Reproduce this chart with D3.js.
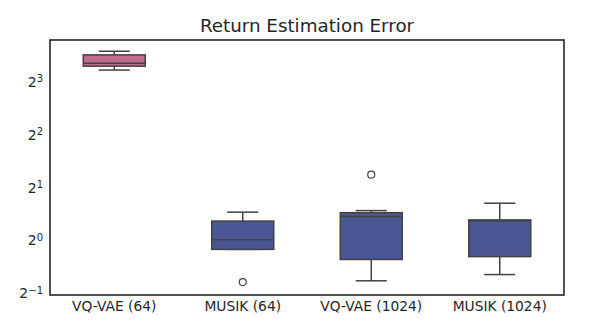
<!DOCTYPE html>
<html>
<head>
<meta charset="utf-8">
<script src="https://cdn.jsdelivr.net/npm/d3@7"></script>
<style>
  body { margin: 0; background: #fff; }
  text { font-family: "DejaVu Sans", sans-serif; fill: #262626; }
</style>
</head>
<body>
<div id="chart"></div>
<script>
var width = 598;
var height = 332;

// box stats (log2 axis)
var categories = ["VQ-VAE (64)", "MUSIK (64)", "VQ-VAE (1024)", "MUSIK (1024)"];
var whiskerLow = [9.33, 0.89, 0.59, 0.64];
var q1Values = [9.82, 0.89, 0.78, 0.81];
var medianValues = [10.2, 1.01, 1.37, 1.29];
var q3Values = [11.38, 1.29, 1.44, 1.31];
var whiskerHigh = [11.94, 1.45, 1.48, 1.63];
var outliers = [[], [0.58], [2.37], []];
var boxColors = ["#bf6c8f", "#4b5795", "#4b5795", "#4b5795"];
var yTicks = [-1, 0, 1, 2, 3];

var margin = {top: 40, right: 34, bottom: 37, left: 50};

var svg = d3.select("#chart")
  .append("svg")
    .attr("width", width)
    .attr("height", height);

var x = d3.scaleBand()
  .domain(categories)
  .range([margin.left, width - margin.right]);

var y = d3.scaleLog()
  .base(2)
  .domain([Math.pow(2, -1.03), Math.pow(2, 3.79)])
  .range([height - margin.bottom, margin.top]);

var data = categories.map(function(c, i){
  return {
    name: c,
    lo: whiskerLow[i],
    q1: q1Values[i],
    med: medianValues[i],
    q3: q3Values[i],
    hi: whiskerHigh[i],
    out: outliers[i],
    color: boxColors[i]};
});

var boxW = 62;
var capW = boxW / 2;
var lineColor = "#424242";

var g = svg.append("g")
  .selectAll("g")
  .data(data)
  .enter()
  .append("g")
    .attr("transform", d => "translate(" + (x(d.name) + x.bandwidth() / 2) + ",0)");

// whiskers
g.append("line")
  .attr("x1", 0).attr("x2", 0)
  .attr("y1", d => y(d.hi)).attr("y2", d => y(d.q3))
  .attr("stroke", lineColor).attr("stroke-width", 1.5);
g.append("line")
  .attr("x1", 0).attr("x2", 0)
  .attr("y1", d => y(d.lo)).attr("y2", d => y(d.q1))
  .attr("stroke", lineColor).attr("stroke-width", 1.5);
g.append("line")
  .attr("x1", -capW / 2).attr("x2", capW / 2)
  .attr("y1", d => y(d.hi)).attr("y2", d => y(d.hi))
  .attr("stroke", lineColor).attr("stroke-width", 1.5);
g.append("line")
  .attr("x1", -capW / 2).attr("x2", capW / 2)
  .attr("y1", d => y(d.lo)).attr("y2", d => y(d.lo))
  .attr("stroke", lineColor).attr("stroke-width", 1.5);

// boxes
g.append("rect")
  .attr("x", -boxW / 2)
  .attr("width", boxW)
  .attr("y", d => y(d.q3))
  .attr("height", d => y(d.q1) - y(d.q3))
  .attr("fill", d => d.color)
  .attr("stroke", lineColor)
  .attr("stroke-width", 1.5);

// medians
g.append("line")
  .attr("x1", -boxW / 2).attr("x2", boxW / 2)
  .attr("y1", d => y(d.med)).attr("y2", d => y(d.med))
  .attr("stroke", lineColor).attr("stroke-width", 1.5);

// fliers
g.selectAll("circle")
  .data(d => d.out)
  .enter()
  .append("circle")
    .attr("cx", 0)
    .attr("cy", v => y(v))
    .attr("r", 3.5)
    .attr("fill", "none")
    .attr("stroke", lineColor)
    .attr("stroke-width", 1.2);

// frame
svg.append("rect")
  .attr("x", margin.left)
  .attr("y", margin.top)
  .attr("width", width - margin.left - margin.right)
  .attr("height", height - margin.top - margin.bottom)
  .attr("fill", "none")
  .attr("stroke", "#262626")
  .attr("stroke-width", 1.6);

// y tick labels
var yl = svg.append("g")
  .selectAll("text")
  .data(yTicks)
  .enter()
  .append("text")
    .attr("x", margin.left - 7)
    .attr("y", t => y(Math.pow(2, t)))
    .attr("dy", "0.35em")
    .attr("text-anchor", "end")
    .style("font-size", "14px");
yl.append("tspan").text("2");
yl.append("tspan")
  .attr("dy", "-0.45em")
  .style("font-size", "10px")
  .text(t => t < 0 ? "\u2212" + Math.abs(t) : t);

// x tick labels
svg.append("g")
  .selectAll("text")
  .data(categories)
  .enter()
  .append("text")
    .attr("x", c => x(c) + x.bandwidth() / 2)
    .attr("y", height - margin.bottom + 16)
    .attr("text-anchor", "middle")
    .style("font-size", "13.8px")
    .text(c => c);

// title
svg.append("text")
  .attr("x", (margin.left + width - margin.right) / 2)
  .attr("y", 32)
  .attr("text-anchor", "middle")
  .style("font-size", "18.3px")
  .text("Return Estimation Error");
</script>
</body>
</html>
